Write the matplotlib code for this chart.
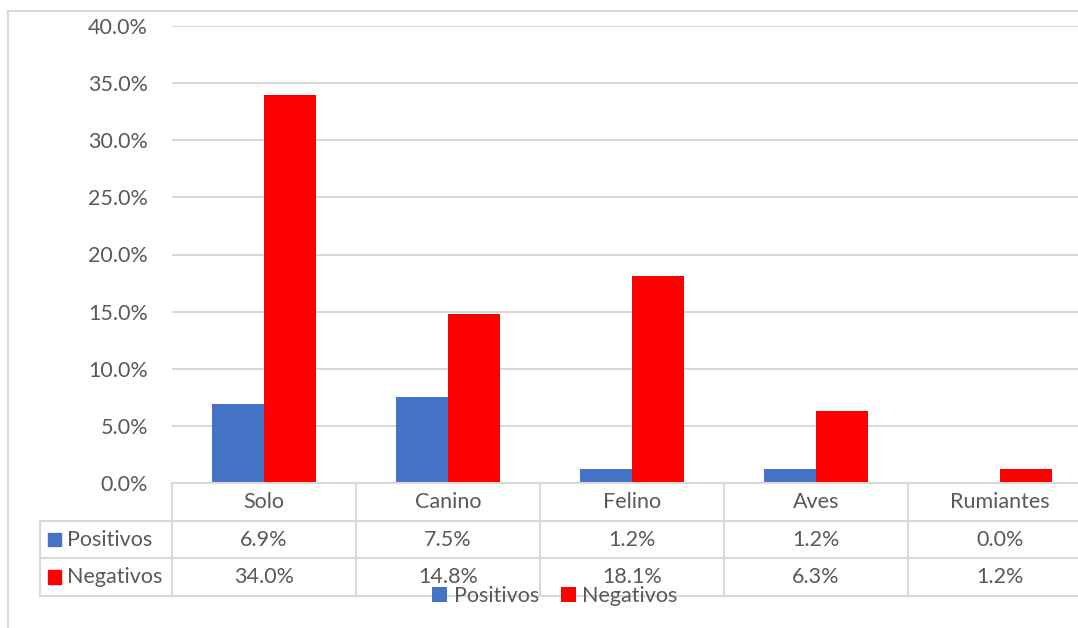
import matplotlib
matplotlib.use("Agg")
import matplotlib.pyplot as plt
from matplotlib.patches import Rectangle
from matplotlib.ticker import PercentFormatter
import numpy as np

categories = ["Solo", "Canino", "Felino", "Aves", "Rumiantes"]
series_names = ["Positivos", "Negativos"]
positivos = [0.069, 0.075, 0.012, 0.012, 0.000]
negativos = [0.340, 0.148, 0.181, 0.063, 0.012]
colors = ["#4472C4", "#FF0000"]
yticks = [0.0, 0.05, 0.10, 0.15, 0.20, 0.25, 0.30, 0.35, 0.40]

W, H = 1078, 628
plt.rcParams['font.family'] = ['Lato', 'DejaVu Sans']
txt_color = "#595959"
grid_color = "#D9D9D9"
fs = 15.5

fig = plt.figure(figsize=(W / 100, H / 100), dpi=100)

def px_rect(x0, y0, x1, y1):
    return [x0 / W, 1 - y1 / H, (x1 - x0) / W, (y1 - y0) / H]

# outer chart border
fig.patches.append(Rectangle((8 / W, -0.1), 1.2, (H - 11) / H + 0.1,
                             transform=fig.transFigure, fill=False,
                             edgecolor=grid_color, linewidth=1.5))

col_w = 184
left, right = 172, 172 + col_w * len(categories)
ax = fig.add_axes(px_rect(left, 26, right, 483))
x = np.arange(len(categories)) + 0.5
bw = 0.285
ax.bar(x - bw / 2, positivos, width=bw, color=colors[0], label=series_names[0], zorder=3)
ax.bar(x + bw / 2, negativos, width=bw, color=colors[1], label=series_names[1], zorder=3)
ax.set_xlim(0, len(categories))
ax.set_ylim(0, 0.4)
ax.set_yticks(yticks)
ax.yaxis.set_major_formatter(PercentFormatter(1.0, decimals=1))
ax.tick_params(axis='y', length=0, pad=17.3, labelsize=fs, labelcolor=txt_color)
ax.set_xticks([])
ax.grid(axis='y', color=grid_color, linewidth=1.5, zorder=0)
for s in ax.spines.values():
    s.set_visible(False)

# data table
tleft = 40
lab_w = (left - tleft) / col_w
tax = fig.add_axes(px_rect(tleft, 483, right, 596))
tax.set_xlim(-lab_w, len(categories))
tax.set_ylim(3, 0)
tax.axis('off')
lw = 1.5
tax.plot([0, len(categories)], [0, 0], color=grid_color, lw=lw, clip_on=False)
for yy in [1, 2, 3]:
    tax.plot([-lab_w, len(categories)], [yy, yy], color=grid_color, lw=lw, clip_on=False)
tax.plot([-lab_w, -lab_w], [1, 3], color=grid_color, lw=lw, clip_on=False)
for i in range(len(categories) + 1):
    tax.plot([i, i], [0, 3], color=grid_color, lw=lw, clip_on=False)
for i, c in enumerate(categories):
    tax.text(i + 0.5, 0.5, c, ha='center', va='center', fontsize=fs, color=txt_color)
    tax.text(i + 0.5, 1.5, f"{positivos[i]*100:.1f}%", ha='center', va='center', fontsize=fs, color=txt_color)
    tax.text(i + 0.5, 2.5, f"{negativos[i]*100:.1f}%", ha='center', va='center', fontsize=fs, color=txt_color)
sq = 13 / col_w
for r, (name, col) in enumerate(zip(series_names, colors)):
    x0 = -lab_w + 8 / col_w
    tax.add_patch(Rectangle((x0, r + 1.5 - 0.18), sq, 0.36, color=col, clip_on=False))
    tax.text(x0 + sq + 6 / col_w, r + 1.5, name, ha='left', va='center', fontsize=fs, color=txt_color)

# bottom legend
handles, labels = ax.get_legend_handles_labels()
fig.legend(handles, labels, loc='center', bbox_to_anchor=(555 / W, 1 - 596 / H),
           ncol=2, frameon=False, fontsize=fs, labelcolor=txt_color,
           handlelength=0.7, handleheight=0.7, handletextpad=0.3, columnspacing=1.0,
           borderpad=0)

fig.savefig("out.png", dpi=100)
